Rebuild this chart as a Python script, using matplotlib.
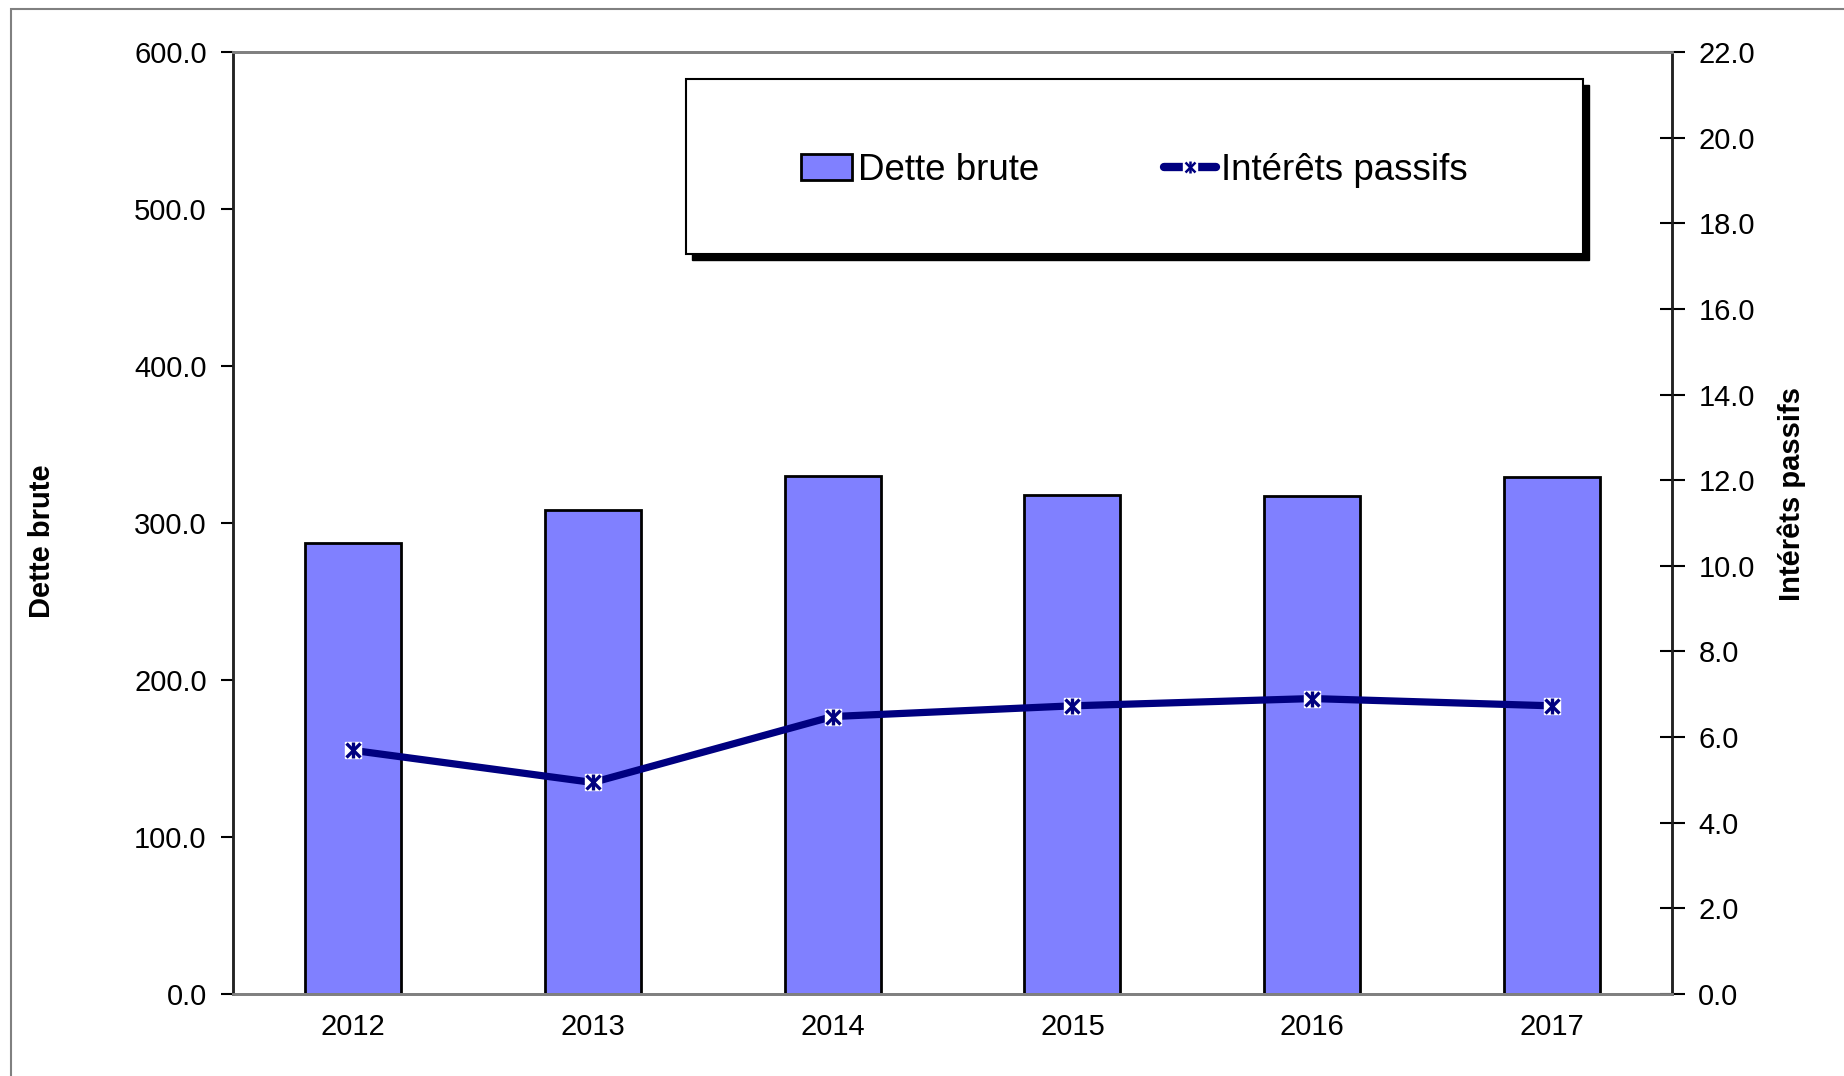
import matplotlib
matplotlib.use("Agg")
import matplotlib.pyplot as plt
from matplotlib.patches import Patch, Rectangle
from matplotlib.lines import Line2D
from matplotlib.legend_handler import HandlerTuple
from matplotlib.ticker import FormatStrFormatter

plt.rcParams['font.family'] = ['Liberation Sans', 'DejaVu Sans']

years = ['2012', '2013', '2014', '2015', '2016', '2017']
dette_brute = [287.0, 308.0, 330.0, 318.0, 317.5, 329.5]
interets_passifs = [5.69, 4.94, 6.48, 6.73, 6.90, 6.73]

bar_col = '#8080FF'
line_col = '#000080'

fig = plt.figure(figsize=(18.44, 10.76), dpi=100)
ax = fig.add_axes([0.1264, 0.0762, 0.7803, 0.8755])
ax2 = ax.twinx()

x = list(range(len(years)))
ax.bar(x, dette_brute, width=0.4, color=bar_col, edgecolor='black', linewidth=2, zorder=2)
ax.set_xlim(-0.5, len(years) - 0.5)
ax.set_ylim(0, 600)
ax.set_yticks([0, 100, 200, 300, 400, 500, 600])
ax.yaxis.set_major_formatter(FormatStrFormatter('%.1f'))
ax.set_xticks(x)
ax.set_xticklabels(years)
ax.tick_params(axis='x', length=0, pad=14, labelsize=21)
ax.tick_params(axis='y', direction='out', length=9, width=1.5, pad=10, labelsize=21)

# line on secondary axis
ax2.plot(x, interets_passifs, color=line_col, lw=5.2, zorder=3)
ax2.plot(x, interets_passifs, ls='none', marker='s', ms=12, mfc='white', mec='white', zorder=4)
ax2.plot(x, interets_passifs, ls='none', marker='x', ms=10, mew=2.4, mec=line_col, zorder=5)
ax2.plot(x, interets_passifs, ls='none', marker='|', ms=12, mew=2.4, mec=line_col, zorder=5)
ax2.set_ylim(0, 22)
ax2.set_yticks([0, 2, 4, 6, 8, 10, 12, 14, 16, 18, 20, 22])
ax2.yaxis.set_major_formatter(FormatStrFormatter('%.1f'))
ax2.tick_params(axis='y', direction='inout', length=18, width=1.5, pad=10, labelsize=21)

for a in (ax, ax2):
    a.spines['top'].set_color('#808080')
    a.spines['top'].set_linewidth(2)
    a.spines['bottom'].set_color('#808080')
    a.spines['bottom'].set_linewidth(2)
    a.spines['left'].set_color('#222222')
    a.spines['left'].set_linewidth(1.8)
    a.spines['right'].set_color('#222222')
    a.spines['right'].set_linewidth(1.8)

fig.text(0.0228, 0.497, 'Dette brute', rotation=90, ha='center', va='center',
         fontsize=21, fontweight='bold')
fig.text(0.9718, 0.541, 'Intérêts passifs', rotation=90, ha='center', va='center',
         fontsize=21, fontweight='bold')

# outer chart frame
fig.patches.append(Rectangle((0.006, -0.05), 1.1, 1.05 - 9 / 1076, transform=fig.transFigure,
                             fill=False, edgecolor='#808080', lw=1.5, zorder=0))

# legend box with shadow
lx0, lx1 = 686 / 1844, 1583 / 1844
ly1, ly0 = 1 - 79 / 1076, 1 - 254 / 1076
dx, dy = 6 / 1844, 6 / 1076
fig.patches.append(Rectangle((lx0 + dx, ly0 - dy), lx1 - lx0, ly1 - ly0, transform=fig.transFigure,
                             facecolor='black', edgecolor='black', zorder=5))
fig.patches.append(Rectangle((lx0, ly0), lx1 - lx0, ly1 - ly0, transform=fig.transFigure,
                             facecolor='white', edgecolor='black', lw=1.5, zorder=6))

h_bar = Patch(facecolor=bar_col, edgecolor='black', linewidth=2)
h_line = (Line2D([], [], color=line_col, lw=6, solid_capstyle='round'),
          Line2D([], [], ls='none', marker='s', ms=10, mfc='white', mec='white'),
          Line2D([], [], ls='none', marker='x', ms=7, mew=1.8, mec=line_col),
          Line2D([], [], ls='none', marker='|', ms=9, mew=1.8, mec=line_col))
leg = fig.legend([h_bar, h_line], ['Dette brute', 'Intérêts passifs'],
                 handler_map={tuple: HandlerTuple(ndivide=1)},
                 loc='center', bbox_to_anchor=((lx0 + lx1) / 2, 0.842),
                 bbox_transform=fig.transFigure, ncol=2, frameon=False,
                 fontsize=26.5, handlelength=1.4, handletextpad=0.15, columnspacing=3.4)
leg.set_zorder(7)

fig.savefig('out.png', dpi=100)
